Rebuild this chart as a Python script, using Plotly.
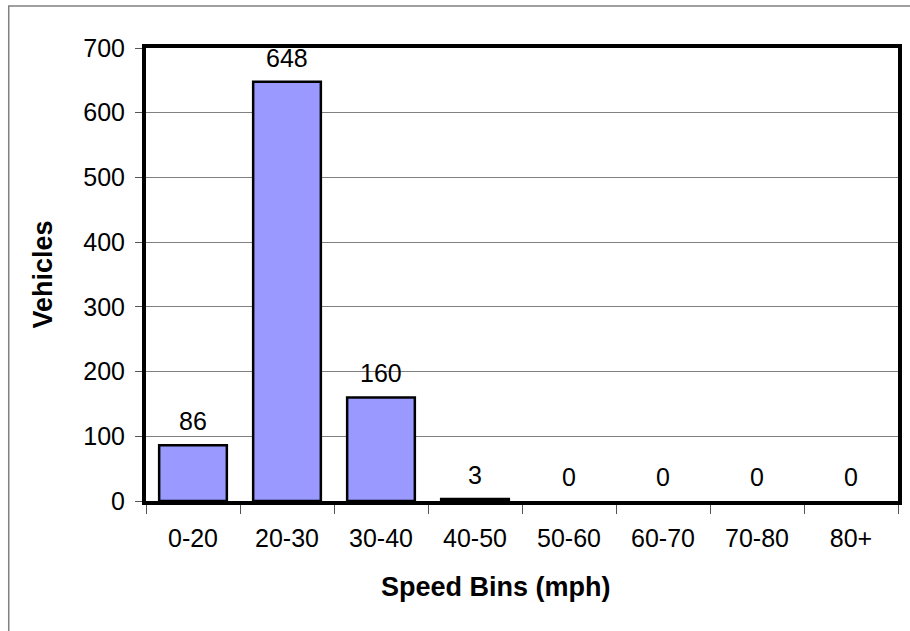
import plotly.graph_objects as go

categories = ["0-20", "20-30", "30-40", "40-50", "50-60", "60-70", "70-80", "80+"]
vehicles = [86, 648, 160, 3, 0, 0, 0, 0]
y_ticks = [0, 100, 200, 300, 400, 500, 600, 700]

FONT = "Liberation Sans, Arial, sans-serif"
FS = 25
TFS = 27

# plot area in pixels
L, R, T, B = 146, 902, 48, 501
PW, PH = R - L, B - T

fig = go.Figure()
fig.add_trace(go.Bar(
    x=categories, y=vehicles,
    marker=dict(color="#9999FF",
                line=dict(color="black", width=[2.5 if v > 0 else 0 for v in vehicles])),
    width=0.72,
    hoverinfo="x+y",
))

for c, v in zip(categories, vehicles):
    fig.add_annotation(x=c, y=v, text=str(v), showarrow=False,
                       yanchor="bottom", yshift=8,
                       font=dict(family=FONT, size=FS, color="black"))

# axis titles as paper annotations
fig.add_annotation(xref="paper", yref="paper", x=(42 - L) / PW, y=(B - 275) / PH,
                   text="<b>Vehicles</b>", textangle=-90, showarrow=False,
                   xanchor="center", yanchor="middle",
                   font=dict(family=FONT, size=TFS, color="black"))
fig.add_annotation(xref="paper", yref="paper", x=(498 - L) / PW, y=(B - 587) / PH,
                   text="<b>Speed Bins (mph)</b>", showarrow=False,
                   xanchor="center", yanchor="middle",
                   font=dict(family=FONT, size=TFS, color="black"))

fig.update_layout(
    width=910, height=631,
    margin=dict(l=L, r=910 - R, t=T, b=631 - B),
    paper_bgcolor="white", plot_bgcolor="white",
    showlegend=False,
    font=dict(family=FONT, size=FS, color="black"),
    xaxis=dict(
        type="category",
        showline=True, linecolor="black", linewidth=4, mirror=True,
        ticks="outside", tickson="boundaries", ticklen=9, tickcolor="#555555", tickwidth=1,
        tickfont=dict(size=FS), ticklabelstandoff=12,
        showgrid=False,
    ),
    yaxis=dict(
        range=[0, 700], tickvals=y_ticks,
        showline=True, linecolor="black", linewidth=4, mirror=True,
        ticks="outside", ticklen=7, tickcolor="#555555", tickwidth=1,
        tickfont=dict(size=FS), ticklabelstandoff=5,
        showgrid=True, gridcolor="#808080", gridwidth=1,
        zeroline=False,
    ),
    shapes=[dict(type="rect", xref="paper", yref="paper",
                 x0=(8 - L) / PW, x1=(940 - L) / PW,
                 y0=(B - 660) / PH, y1=(B - 6) / PH,
                 line=dict(color="#808080", width=1.5), fillcolor="rgba(0,0,0,0)",
                 layer="below")],
)

fig.write_html("out.html")
